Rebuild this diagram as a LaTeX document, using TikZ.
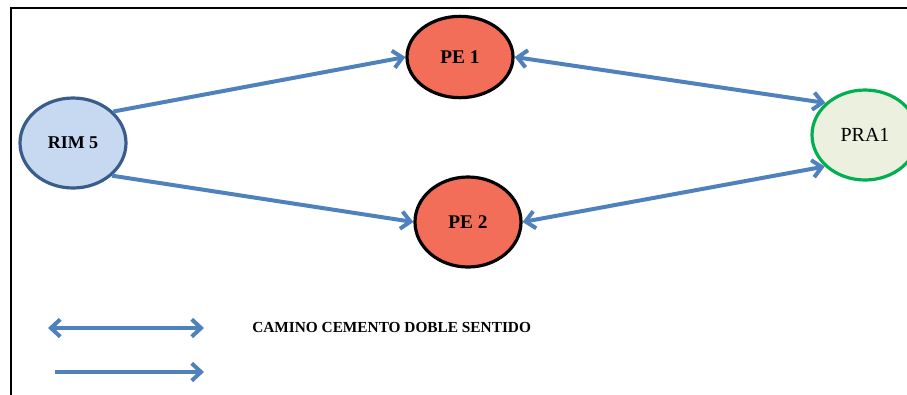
\documentclass[tikz,border=0pt]{standalone}
\usepackage{fontspec}
\setmainfont{Liberation Serif}
\definecolor{roadblue}{RGB}{79,129,189}
\definecolor{rimfill}{RGB}{198,217,241}
\definecolor{rimline}{RGB}{56,93,138}
\definecolor{pefill}{RGB}{242,110,88}
\definecolor{prafill}{RGB}{235,241,222}
\definecolor{praline}{RGB}{0,176,80}
\usetikzlibrary{arrows.meta,positioning,shapes.geometric}

\begin{document}
\begin{tikzpicture}[x=0.75pt,y=-0.75pt,
  site/.style={draw,ellipse,line width=2.4pt,inner sep=0pt,minimum width=79.5pt,minimum height=67.5pt},
  road/.style={roadblue,line width=3pt,-{Straight Barb[length=7pt,width=13pt]}},
  roadtwo/.style={road,{Straight Barb[length=7pt,width=13pt]}-{Straight Barb[length=7pt,width=13pt]}}]
\useasboundingbox (0,0) rectangle (907,394);
\draw[line width=1.6pt] (11,420) -- (11,8) -- (930,8);
\node[site,fill=rimfill,draw=rimline,font=\fontsize{13.5}{15}\selectfont\bfseries] (rim) at (73,143) {RIM 5};
\node[site,fill=pefill,draw=black,minimum height=61pt,font=\fontsize{14.5}{16}\selectfont\bfseries] (pe1) at (460,57) {PE 1};
\node[site,fill=pefill,draw=black,font=\fontsize{14.5}{16}\selectfont\bfseries] (pe2) at (468,222) {PE 2};
\node[site,fill=prafill,draw=praline,font=\fontsize{15}{17}\selectfont] (pra) at (865,135) {PRA1};
\draw[road] (rim.38) -- (pe1.west);
\draw[road] (rim.-40) -- (pe2.west);
\draw[roadtwo] (pe1.east) -- (pra.141);
\draw[roadtwo] (pe2.east) -- (pra.218);
% leyenda
\coordinate (la) at (48,328);
\coordinate (lb) at (204,328);
\coordinate (lc) at (55,372);
\coordinate (ld) at (204,372);
\draw[roadtwo] (la) -- (lb);
\draw[road] (lc) -- (ld);
\node[anchor=west,inner sep=0pt,font=\fontsize{11.5}{13}\selectfont\bfseries] (leg) at (252,327) {CAMINO CEMENTO DOBLE SENTIDO};
\end{tikzpicture}
\end{document}
